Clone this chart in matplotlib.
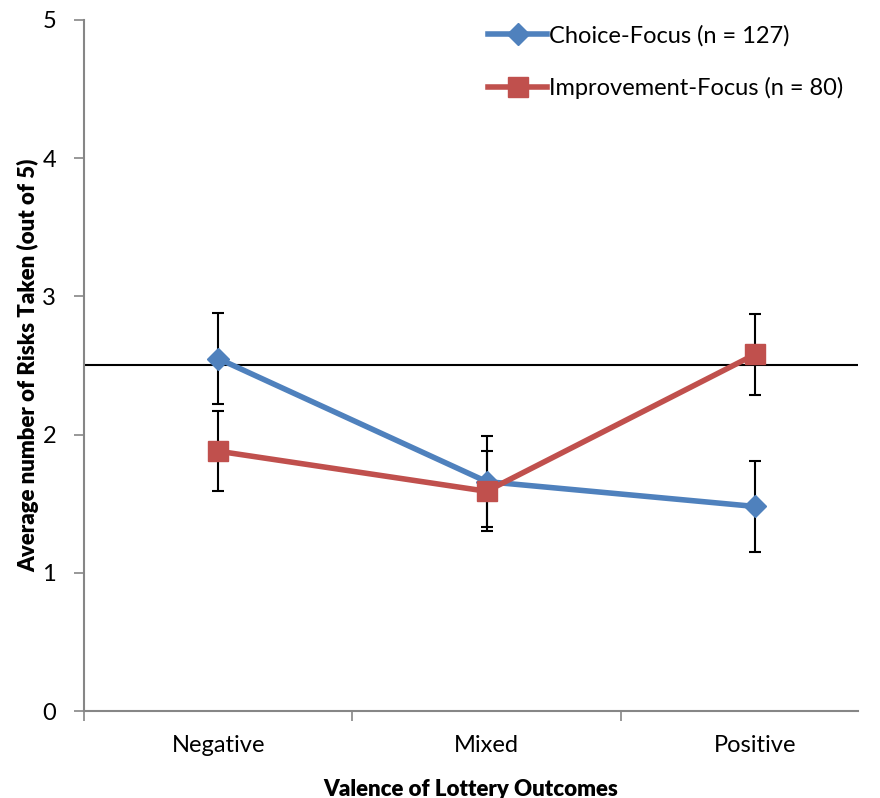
import matplotlib
matplotlib.use("Agg")
import matplotlib.pyplot as plt
import numpy as np

categories = ["Negative", "Mixed", "Positive"]
choice_vals = [2.55, 1.66, 1.48]
choice_err = [0.33, 0.33, 0.33]
improve_vals = [1.88, 1.59, 2.58]
improve_err = [0.29, 0.29, 0.29]
ref_value = 2.5
series_labels = ["Choice-Focus (n = 127)", "Improvement-Focus (n = 80)"]

plt.rcParams['font.family'] = ['Lato', 'DejaVu Sans']

W, H = 880, 798
fig = plt.figure(figsize=(W / 100, H / 100), dpi=100)
ax = fig.add_axes([84 / W, 1 - 711 / H, (858 - 84) / W, (711 - 20) / H])

x = np.arange(len(categories))
blue = "#4F81BD"
red = "#C0504D"

ax.axhline(ref_value, color="black", lw=1.5, zorder=1)

ax.errorbar(x, choice_vals, yerr=choice_err, fmt='none', ecolor='black',
            elinewidth=1.5, capsize=4, capthick=1.5, zorder=2)
ax.errorbar(x, improve_vals, yerr=improve_err, fmt='none', ecolor='black',
            elinewidth=1.5, capsize=4, capthick=1.5, zorder=2)

ax.plot(x, choice_vals, color=blue, lw=4.0, marker='D', markersize=11,
        markerfacecolor=blue, markeredgecolor=blue, label=series_labels[0], zorder=3)
ax.plot(x, improve_vals, color=red, lw=4.0, marker='s', markersize=14,
        markerfacecolor=red, markeredgecolor=red, label=series_labels[1], zorder=4)

ax.set_ylim(0, 5)
ax.set_xlim(-0.5, 2.384)
ax.set_yticks([0, 1, 2, 3, 4, 5])
ax.set_xticks(x)
ax.set_xticklabels(categories)
ax.set_xticks([-0.5, 0.5, 1.5], minor=True)

gray = "#868686"
for s in ["top", "right"]:
    ax.spines[s].set_visible(False)
for s in ["left", "bottom"]:
    ax.spines[s].set_color(gray)
    ax.spines[s].set_linewidth(1.5)

ax.tick_params(axis='x', which='major', length=0, pad=17, labelsize=17)
ax.tick_params(axis='x', which='minor', length=7, color=gray, width=1.2, direction='out')
ax.tick_params(axis='y', which='major', length=7, color=gray, width=1.2, labelsize=17, pad=13)

ax.set_xlabel("Valence of Lottery Outcomes", fontsize=16, fontweight='heavy')
ax.xaxis.set_label_coords(0.5, -(789 - 711) / (711 - 20))
ax.xaxis.label.set_va('center')
ax.set_ylabel("Average number of Risks Taken (out of 5)", fontsize=16, fontweight='heavy')
ax.yaxis.set_label_coords(-(84 - 28) / (858 - 84), 0.5)
ax.yaxis.label.set_va('center')

leg = fig.legend(*ax.get_legend_handles_labels(), loc='upper left',
                 bbox_to_anchor=(488 / W, 1 - 25 / H), frameon=False, fontsize=17,
                 handlelength=2.5, handletextpad=0.1, labelspacing=1.3,
                 borderpad=0, borderaxespad=0)

fig.savefig("out.png", dpi=100)
